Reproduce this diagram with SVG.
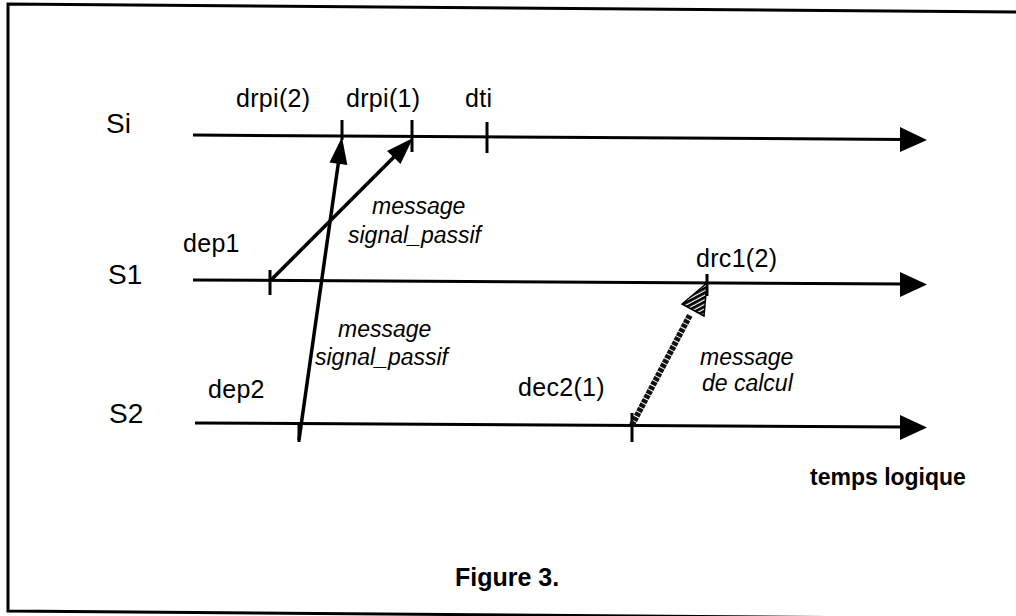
<svg xmlns="http://www.w3.org/2000/svg" width="1016" height="616" viewBox="0 0 1016 616">
<defs>
<style>
.bg{fill:#fff}
.frame{fill:none;stroke:#000;stroke-width:3}
.tl{fill:none;stroke:#000;stroke-width:3}
.tick{stroke:#000;stroke-width:3}
.msg{stroke:#000;stroke-width:3.5;fill:none}
.head{fill:#000}
.calc{stroke:#111;stroke-width:6;stroke-dasharray:4 1;fill:none}
.lbl{font-family:"Liberation Sans",Arial,sans-serif;font-size:25px;letter-spacing:0.3px;fill:#000}
.sl{font-family:"Liberation Sans",Arial,sans-serif;font-size:28px;fill:#000}
.it{font-family:"Liberation Sans",Arial,sans-serif;font-size:23px;font-style:italic;fill:#000}
.bd{font-family:"Liberation Sans",Arial,sans-serif;font-weight:bold;fill:#000}
</style>
<pattern id="hatch" patternUnits="userSpaceOnUse" width="4" height="4" patternTransform="rotate(-28)">
<rect width="4" height="4" fill="#fff"/>
<rect width="4" height="2.8" fill="#000"/>
</pattern>
</defs>
<rect class="bg" width="1016" height="616"/>
<path class="frame" d="M1016,12 L8,4 L8,611 L1016,619"/>

<g id="timelines">
<g id="Si">
<text class="sl" x="106" y="133">Si</text>
<path class="tl" d="M193,135 L905,139.5"/>
<polygon class="head" points="900,127 927,140 900,152"/>
</g>
<g id="S1">
<text class="sl" x="108" y="284">S1</text>
<path class="tl" d="M193,280 L905,284"/>
<polygon class="head" points="900,272 927,284.5 900,297"/>
</g>
<g id="S2">
<text class="sl" x="109" y="423">S2</text>
<path class="tl" d="M195,423 L905,427"/>
<polygon class="head" points="900,415 927,427.5 900,440"/>
</g>
</g>

<g id="events">
<g id="drpi2"><line class="tick" x1="342" y1="120" x2="342" y2="140"/><text class="lbl" x="236" y="107">drpi(2)</text></g>
<g id="drpi1"><line class="tick" x1="412" y1="120" x2="412" y2="152"/><text class="lbl" x="346" y="107">drpi(1)</text></g>
<g id="dti"><line class="tick" x1="487" y1="122" x2="487" y2="153"/><text class="lbl" x="465" y="107">dti</text></g>
<g id="dep1"><line class="tick" x1="270" y1="270" x2="270" y2="295"/><text class="lbl" x="183" y="252">dep1</text></g>
<g id="dep2"><line class="tick" x1="299" y1="424" x2="299" y2="442"/><text class="lbl" x="208" y="398">dep2</text></g>
<g id="dec21"><line class="tick" x1="632" y1="413" x2="632" y2="442"/><text class="lbl" x="518" y="396">dec2(1)</text></g>
<g id="drc12"><line class="tick" x1="707" y1="274" x2="707" y2="296"/><text class="lbl" x="696" y="267">drc1(2)</text></g>
</g>

<g id="connectors">
<g id="msg-dep2">
<line class="msg" x1="299" y1="440" x2="339.5" y2="155"/>
<polygon class="head" points="342,137 347.3,165 329.5,162.5"/>
</g>
<g id="msg-dep1">
<line class="msg" x1="270" y1="281" x2="397" y2="154"/>
<polygon class="head" points="413,138 400.5,164 387,151"/>
</g>
<g id="msg-calc">
<line class="calc" x1="632" y1="425" x2="690" y2="315"/>
<polygon points="707,283 704,316 682,304" fill="url(#hatch)" stroke="#000" stroke-width="1.5"/>
</g>
</g>

<g id="labels">
<text class="it" x="372" y="214">message</text>
<text class="it" x="348" y="243">signal_passif</text>
<text class="it" x="338" y="337">message</text>
<text class="it" x="315" y="365">signal_passif</text>
<text class="it" x="700" y="365" font-size="22">message</text>
<text class="it" x="702" y="391" font-size="22">de calcul</text>
<text class="bd" x="810" y="485" font-size="23">temps logique</text>
<text class="bd" x="455" y="586" font-size="25">Figure 3.</text>
</g>
</svg>
